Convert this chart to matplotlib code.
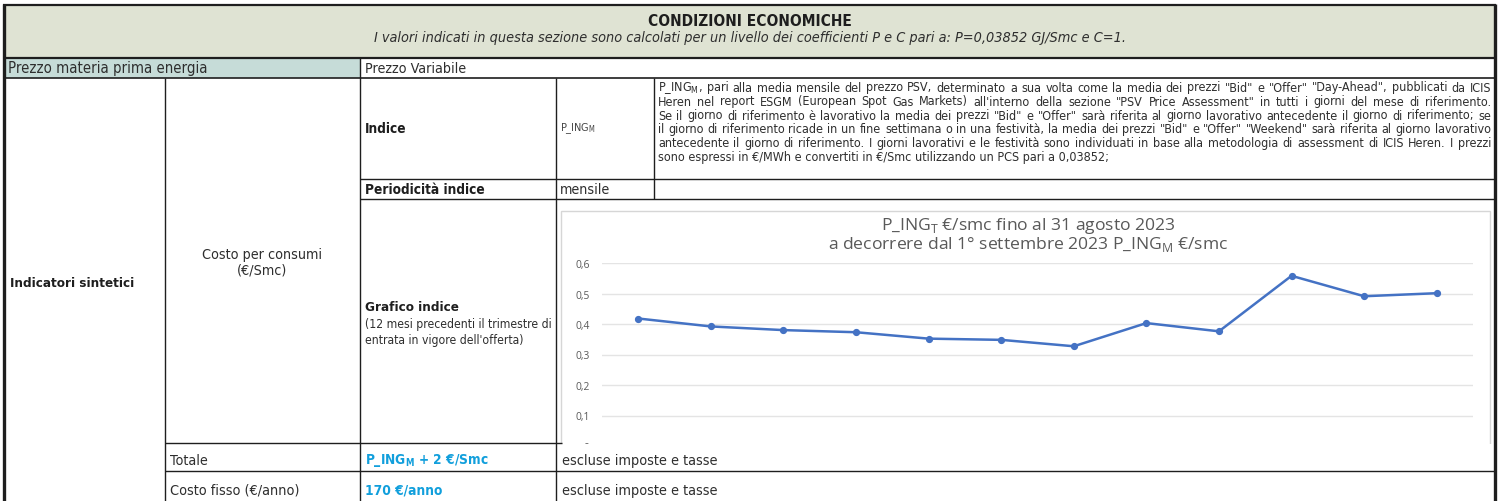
import numpy as np
import matplotlib
matplotlib.use('Agg')
import matplotlib.pyplot as plt
from matplotlib.patches import Rectangle
from matplotlib import font_manager as fm

# chart data (12 mesi precedenti)
mesi = list(range(12))
p_ing = [0.418, 0.392, 0.380, 0.373, 0.352, 0.348, 0.327, 0.403, 0.376, 0.558, 0.491, 0.501]
y_ticks = [0, 0.1, 0.2, 0.3, 0.4, 0.5, 0.6]
y_labels = ['0', '0,1', '0,2', '0,3', '0,4', '0,5', '0,6']

titolo = 'CONDIZIONI ECONOMICHE'
sottotitolo = 'I valori indicati in questa sezione sono calcolati per un livello dei coefficienti P e C pari a: P=0,03852 GJ/Smc e C=1.'
titolo_grafico = ['P_ING$_\\mathregular{T}$ €/smc fino al 31 agosto 2023',
                  'a decorrere dal 1° settembre 2023 P_ING$_\\mathregular{M}$ €/smc']
descr_indice = [
    'P_ING$_\\mathregular{M}$, pari alla media mensile del prezzo PSV, determinato a sua volta come la media dei prezzi "Bid" e "Offer" "Day-Ahead", pubblicati da ICIS',
    'Heren nel report ESGM (European Spot Gas Markets) all\'interno della sezione "PSV Price Assessment" in tutti i giorni del mese di riferimento.',
    'Se il giorno di riferimento è lavorativo la media dei prezzi "Bid" e "Offer" sarà riferita al giorno lavorativo antecedente il giorno di riferimento; se',
    'il giorno di riferimento ricade in un fine settimana o in una festività, la media dei prezzi "Bid" e "Offer" "Weekend" sarà riferita al giorno lavorativo',
    'antecedente il giorno di riferimento. I giorni lavorativi e le festività sono individuati in base alla metodologia di assessment di ICIS Heren. I prezzi',
    'sono espressi in €/MWh e convertiti in €/Smc utilizzando un PCS pari a 0,03852;',
]

# condensed DejaVu if it is there, else plain DejaVu a bit smaller
cond_file = fm.findfont(fm.FontProperties(family='DejaVu Sans', stretch='condensed'))
if 'Condensed' in cond_file:
    STRETCH, K = 'condensed', 1.0
else:
    STRETCH, K = 'normal', 0.9

DARK = '#1e1e1e'
TXT = '#2e2e2e'
BLUE = '#119fdc'

W, H = 1502, 502
fig = plt.figure(figsize=(W / 100, H / 100), dpi=100)

def fx(px):
    return px / W

def fy(py):
    return 1 - py / H

# ---- embedded chart ----
cax = fig.add_axes([fx(602), fy(447), fx(1473) - fx(602), fy(264) - fy(447)], zorder=1)
cax.set_facecolor('none')
cax.plot(mesi, p_ing, color='#4472c4', lw=1.8, marker='o', markersize=4.2)
cax.set_xlim(-0.5, 11.5)
cax.set_ylim(0, 0.6)
cax.set_yticks(y_ticks)
cax.set_yticklabels(y_labels, fontsize=7.4, color='#595959', family='Open Sans')
cax.set_xticks([])
cax.tick_params(axis='y', length=0, pad=9)
cax.grid(axis='y', color='#e4e4e4', lw=1)
cax.set_axisbelow(True)
for s in cax.spines.values():
    s.set_visible(False)

# ---- table layer ----
tab = fig.add_axes([0, 0, 1, 1], zorder=2)
tab.set_xlim(0, W)
tab.set_ylim(H, 0)
tab.axis('off')
tab.set_facecolor('none')

for i, riga in enumerate(titolo_grafico):
    tab.text(1028, 226 + i * 19, riga, fontsize=12.6, color='#595959', family='Open Sans',
             ha='center', va='center')

# backgrounds
tab.add_patch(Rectangle((4, 6), 1491, 53, facecolor='#dfe3d3', edgecolor='none'))
tab.add_patch(Rectangle((4, 59), 356, 20, facecolor='#c6dcd8', edgecolor='none'))
# chart picture frame and the row covering its bottom
tab.add_patch(Rectangle((561, 212), 929, 240, facecolor='none', edgecolor='#d6d6d6', lw=1))
tab.add_patch(Rectangle((557, 444.5), 937, 58, facecolor='white', edgecolor='none'))

def hline(y, x0, x1, lw=1.0):
    tab.plot([x0, x1], [y, y], color=DARK, lw=lw, solid_capstyle='butt')

def vline(x, y0, y1, lw=1.0):
    tab.plot([x, x], [y0, y1], color=DARK, lw=lw, solid_capstyle='butt')

hline(6, 3, 1496, 1.6)
hline(59, 3, 1496, 1.6)
hline(79, 3, 1496, 1.2)
hline(180, 360, 1496, 1.0)
hline(200, 360, 1496, 1.0)
hline(444, 165, 562, 1.0)
hline(472, 165, 1496, 1.0)
vline(4, 5, 502, 2.4)
vline(1495, 5, 502, 2.4)
vline(360, 59, 502, 1.0)
vline(165, 79, 502, 1.0)
vline(556, 79, 502, 1.0)
vline(654, 79, 200, 1.0)

def txt(x, y, s, size=10, weight='normal', color=TXT, ha='left', style='normal'):
    return tab.text(x, y, s, fontsize=size * K, fontweight=weight, color=color, ha=ha, va='center',
                    family='DejaVu Sans', fontstretch=STRETCH, style=style)

txt(750, 21, titolo, 11.1, 'bold', color=DARK, ha='center')
txt(750, 38, sottotitolo, 10.4, ha='center', style='italic')
txt(8, 69, 'Prezzo materia prima energia', 10.7)
txt(365, 69, 'Prezzo Variabile', 10.3)

txt(10, 284, 'Indicatori sintetici', 9.6, 'bold', color=DARK)
txt(262, 255, 'Costo per consumi', 10.3, ha='center')
txt(262, 271, '(€/Smc)', 10.3, ha='center')

txt(365, 129, 'Indice', 9.8, 'bold', color=DARK)
txt(560, 129, 'P_ING$_\\mathregular{M}$', 7.8, color='#444444')

# justified description paragraph (last line left aligned)
renderer = fig.canvas.get_renderer()
x_left, x_right = 658, 1491
for i, riga in enumerate(descr_indice):
    y = 88 + i * 14
    if i == len(descr_indice) - 1:
        txt(x_left, y, riga, 9.0)
        continue
    parole = riga.split(' ')
    objs = [txt(0, y, p, 9.0) for p in parole]
    larg = [o.get_window_extent(renderer).width for o in objs]
    gap = (x_right - x_left - sum(larg)) / (len(parole) - 1)
    x = x_left
    for o, w in zip(objs, larg):
        o.set_x(x)
        x += w + gap

txt(365, 190, 'Periodicità indice', 9.8, 'bold', color=DARK)
txt(560, 190, 'mensile', 10.3)
txt(365, 308, 'Grafico indice', 9.6, 'bold', color=DARK)
txt(365, 325, '(12 mesi precedenti il trimestre di', 8.7)
txt(365, 341, 'entrata in vigore dell\'offerta)', 8.7)

txt(170, 461, 'Totale', 10.3)
txt(365, 461, 'P_ING$_\\mathregular{M}$ + 2 €/Smc', 9.8, 'bold', color=BLUE)
txt(562, 461, 'escluse imposte e tasse', 10.4)
txt(170, 491, 'Costo fisso (€/anno)', 10.4)
txt(365, 491, '170 €/anno', 9.8, 'bold', color=BLUE)
txt(562, 491, 'escluse imposte e tasse', 10.4)

fig.savefig('out.png', dpi=100, facecolor='white')
